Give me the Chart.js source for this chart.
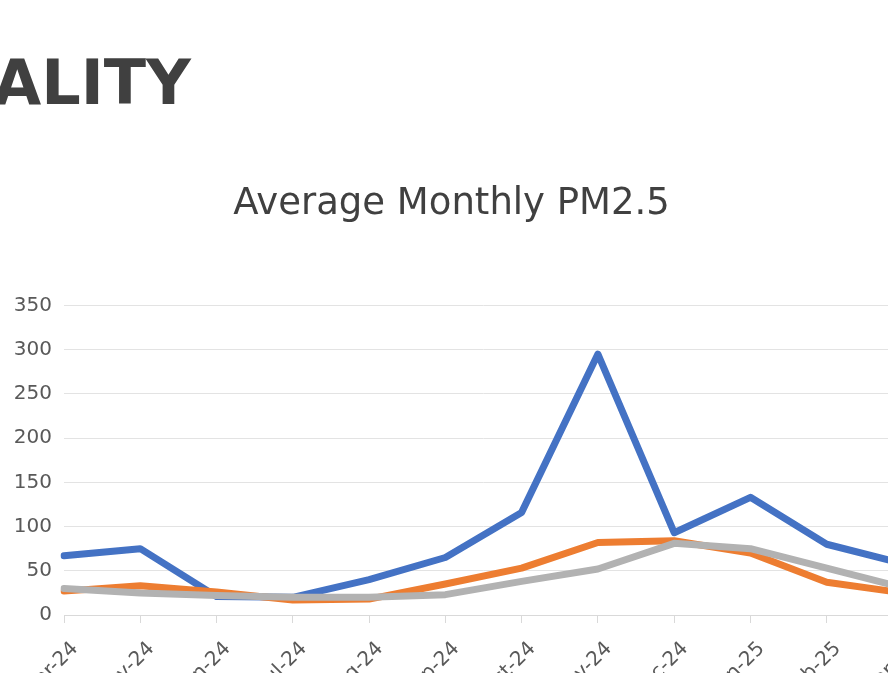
<!DOCTYPE html>
<html>
<head>
<meta charset="utf-8">
<script src="https://cdn.jsdelivr.net/npm/chart.js@4.4.1/dist/chart.umd.min.js"></script>
<style>
  html, body { margin: 0; padding: 0; overflow: hidden; background: #fff; }
  body { position: relative; width: 888px; height: 673px; }
  #heading {
    position: absolute; right: 697px; top: 52px; margin: 0; line-height: 1;
    font-family: "DejaVu Sans", sans-serif; font-weight: 700;
    font-size: 62px; color: #404040; white-space: nowrap;
  }
  #chartBox { position: absolute; left: 0; top: 0; width: 916px; height: 740px; }
</style>
</head>
<body>
<h1 id="heading">AIR QUALITY</h1>
<div id="chartBox"><canvas id="pmChart"></canvas></div>
<script>
// Datos
const months = ["Apr-24", "May-24", "Jun-24", "Jul-24", "Aug-24", "Sep-24", "Oct-24", "Nov-24", "Dec-24", "Jan-25", "Feb-25", "Mar-25"];
const series1 = [67, 75, 21, 20, 40, 65, 116, 295, 93, 133, 80, 58];
const series2 = [27, 33, 26, 17, 18, 35, 53, 82, 84, 70, 37, 25];
const series3 = [30, 25, 22, 20, 20, 23, 38, 52, 81, 75, 53, 31];
const yTicks = [0, 50, 100, 150, 200, 250, 300, 350];

const font = "'DejaVu Sans', sans-serif";

function makeLine(label, data, color, order) {
    return {
        label: label,
        data: data,
        borderColor: color,
        backgroundColor: color,
        borderWidth: 7,
        pointRadius: 0,
        tension: 0,
        borderJoinStyle: "round",
        borderCapStyle: "round",
        fill: false,
        order: order
    };
}

new Chart(document.getElementById("pmChart"), {
    type: "line",
    data: {
        labels: months,
        datasets: [
            makeLine("Series1", series1, "#4472C4", 2),
            makeLine("Series2", series2, "#ED7D31", 1),
            makeLine("Series3", series3, "#B2B2B2", 0)
        ]
    },
    options: {
        responsive: true,
        maintainAspectRatio: false,
        animation: false,
        layout: { padding: { left: 0, right: 13, top: 0, bottom: 0 } },
        plugins: {
            legend: { display: false },
            tooltip: { enabled: false },
            title: {
                display: true,
                text: "Average Monthly PM2.5",
                color: "#404040",
                font: { family: font, size: 37, weight: "normal" },
                padding: { top: 182, bottom: 79 }
            }
        },
        scales: {
            x: {
                offset: false,
                grid: { drawOnChartArea: false, drawTicks: true, tickLength: 8, color: "#D9D9D9" },
                border: { display: true, color: "#D9D9D9", width: 1 },
                ticks: {
                    color: "#595959",
                    font: { family: font, size: 20 },
                    maxRotation: 45,
                    minRotation: 45,
                    autoSkip: false,
                    labelOffset: 11,
                    padding: 14
                },
                afterFit: (scale) => {
                    scale.height = 125;
                    scale.paddingLeft = 0;
                    scale.paddingRight = 0;
                }
            },
            y: {
                min: 0,
                max: 350,
                afterBuildTicks: (scale) => { scale.ticks = yTicks.map(v => ({ value: v })); },
                grid: { color: "#E3E3E3", drawTicks: false },
                border: { display: false },
                ticks: {
                    color: "#595959",
                    font: { family: font, size: 20 },
                    padding: 12
                },
                afterFit: (scale) => { scale.width = 64; }
            }
        }
    }
});
</script>
</body>
</html>
